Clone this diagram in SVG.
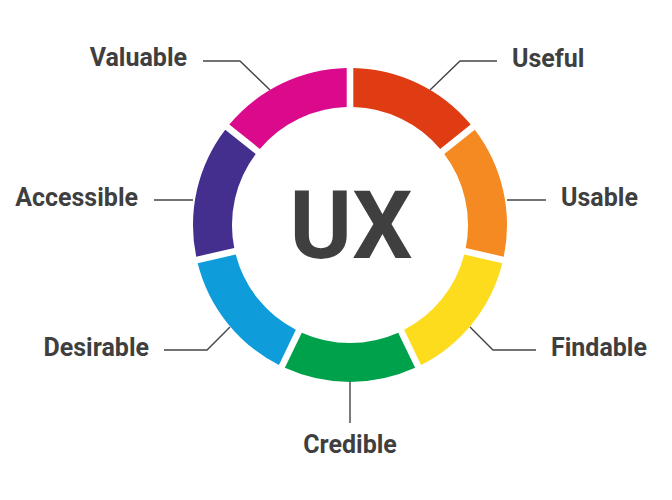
<svg xmlns="http://www.w3.org/2000/svg" width="672" height="500" viewBox="0 0 672 500">
<style>
.lbl{font-family:Roboto,"Liberation Sans",sans-serif;font-weight:700;font-size:25px;fill:#3f3f3f}
.ux{font-family:Roboto,"Liberation Sans",sans-serif;font-weight:700;font-size:95px;fill:#3f3f3f}
.ld{fill:none;stroke:#444;stroke-width:1.4}
</style>
<rect width="672" height="500" fill="#fff"/>
<g id="connectors">
<polyline class="ld" points="203,61 240,61 270,90"/>
<polyline class="ld" points="497,61 460,61 430,90"/>
<polyline class="ld" points="154,200 193,200"/>
<polyline class="ld" points="546,200 507,200"/>
<polyline class="ld" points="164,350 207,350 230,327"/>
<polyline class="ld" points="536,350 493,350 470,327"/>
<polyline class="ld" points="350,382 350,423"/>
</g>
<g id="useful">
<path fill="#DF3C13" d="M353.3,68.04 A157,157 0 0 1 470.66,124.55 L440.16,148.88 A118,118 0 0 0 353.3,107.05 Z"/>
<text class="lbl" x="512" y="67">Useful</text>
</g>
<g id="usable">
<path fill="#F48A21" d="M474.78,129.71 A157,157 0 0 1 503.76,256.71 L465.73,248.03 A118,118 0 0 0 444.28,154.04 Z"/>
<text class="lbl" x="561" y="206">Usable</text>
</g>
<g id="findable">
<path fill="#FDDB1D" d="M502.3,263.15 A157,157 0 0 1 421.07,364.99 L404.15,329.84 A118,118 0 0 0 464.27,254.47 Z"/>
<text class="lbl" x="551" y="356">Findable</text>
</g>
<g id="credible">
<path fill="#00A14B" d="M415.13,367.85 A157,157 0 0 1 284.87,367.85 L301.79,332.7 A118,118 0 0 0 398.21,332.7 Z"/>
<text class="lbl" x="350" y="453" text-anchor="middle">Credible</text>
</g>
<g id="desirable">
<path fill="#0E9CDB" d="M278.93,364.99 A157,157 0 0 1 197.7,263.15 L235.73,254.47 A118,118 0 0 0 295.85,329.84 Z"/>
<text class="lbl" x="149" y="356" text-anchor="end">Desirable</text>
</g>
<g id="accessible">
<path fill="#452F8E" d="M196.24,256.71 A157,157 0 0 1 225.22,129.71 L255.72,154.04 A118,118 0 0 0 234.27,248.03 Z"/>
<text class="lbl" x="138" y="206" text-anchor="end">Accessible</text>
</g>
<g id="valuable">
<path fill="#DB0A8C" d="M229.34,124.55 A157,157 0 0 1 346.7,68.04 L346.7,107.05 A118,118 0 0 0 259.84,148.88 Z"/>
<text class="lbl" x="187" y="66" text-anchor="end">Valuable</text>
</g>
<g id="ux">
<text class="ux" x="351" y="258" text-anchor="middle">UX</text>
</g>
</svg>
